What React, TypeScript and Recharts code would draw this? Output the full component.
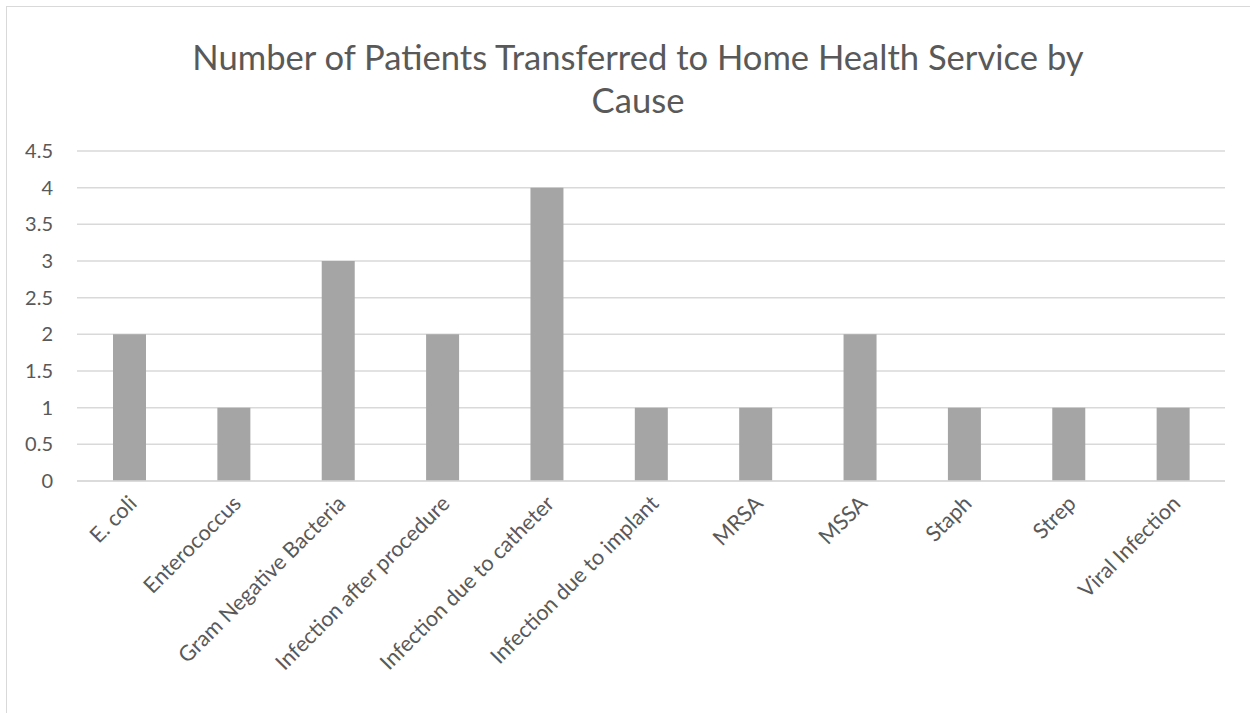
import React from "react";
import { BarChart, Bar, XAxis, YAxis, CartesianGrid } from "recharts";

const causes = [
  "E. coli",
  "Enterococcus",
  "Gram Negative Bacteria",
  "Infection after procedure",
  "Infection due to catheter",
  "Infection due to implant",
  "MRSA",
  "MSSA",
  "Staph",
  "Strep",
  "Viral Infection",
];
const patients = [2, 1, 3, 2, 4, 1, 1, 2, 1, 1, 1];
const yTicks = [0, 0.5, 1, 1.5, 2, 2.5, 3, 3.5, 4, 4.5];
const titleLines = ["Number of Patients Transferred to Home Health Service by", "Cause"];

const data = causes.map((c, i) => ({ cause: c, value: patients[i] }));

const FONT = "Lato, 'Open Sans', sans-serif";
const TEXT = "#595959";

const XTick = (props: any) => {
  const { x, y, payload } = props;
  return (
    <g transform={`translate(${x + 5},${y + 12})`}>
      <text
        x={0}
        y={0}
        textAnchor="end"
        transform="rotate(-45)"
        fill={TEXT}
        fontSize={21.6}
        fontFamily={FONT}
        dominantBaseline="middle"
      >
        {payload.value}
      </text>
    </g>
  );
};

export default function App() {
  return (
    <div
      style={{
        position: "fixed",
        left: 0,
        top: 0,
        width: 1250,
        height: 713,
        overflow: "hidden",
        background: "#fff",
      }}
    >
      <div
        style={{
          position: "absolute",
          left: 6,
          top: 6,
          width: 1300,
          height: 800,
          border: "1px solid #d9d9d9",
        }}
      />
      {titleLines.map((t, i) => (
        <div
          key={i}
          style={{
            position: "absolute",
            left: 138,
            width: 1000,
            top: 36 + i * 43,
            textAlign: "center",
            fontFamily: FONT,
            fontSize: 34.6,
            color: TEXT,
            lineHeight: "42px",
            whiteSpace: "nowrap",
          }}
        >
          {t}
        </div>
      ))}
      <div style={{ position: "absolute", left: 0, top: 0 }}>
        <BarChart
          width={1250}
          height={713}
          data={data}
          margin={{ top: 151, right: 25, bottom: 32, left: 17 }}
          barSize={33}
        >
          <CartesianGrid vertical={false} stroke="#d9d9d9" strokeWidth={1.5} />
          <XAxis
            dataKey="cause"
            interval={0}
            tickLine={false}
            axisLine={{ stroke: "#d9d9d9", strokeWidth: 1.5 }}
            tick={<XTick />}
            height={200}
          />
          <YAxis
            width={60}
            domain={[0, 4.5]}
            ticks={yTicks}
            interval={0}
            tickLine={false}
            axisLine={false}
            tickMargin={18}
            tick={{ fill: TEXT, fontSize: 20, fontFamily: FONT }}
          />
          <Bar dataKey="value" fill="#a5a5a5" isAnimationActive={false} />
        </BarChart>
      </div>
    </div>
  );
}
